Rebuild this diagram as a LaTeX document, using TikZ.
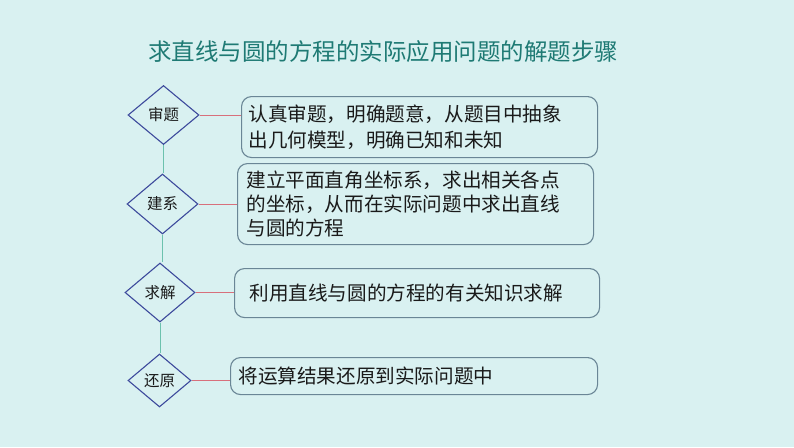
\documentclass[tikz,border=0pt]{standalone}
\usepackage{fontspec}
\setmainfont{Noto Sans CJK SC}
\usepackage{xcolor}
\usetikzlibrary{shapes.geometric}
\definecolor{bg}{HTML}{D9F1F1}
\definecolor{titlec}{HTML}{1E7A74}
\definecolor{diac}{HTML}{3D4A9C}
\definecolor{boxc}{HTML}{6A8696}
\definecolor{vlinkc}{HTML}{6CC2AE}
\definecolor{hlinkc}{HTML}{D8707C}
\definecolor{text}{HTML}{1A1A1A}
\tikzset{
  dia/.style={diamond, draw=diac, line width=1.1pt, inner sep=0pt, text=text, font=\fontsize{15.5}{18}\selectfont},
  box/.style={draw=boxc, line width=1.1pt, rounded corners=10pt, anchor=north west, align=left, text=text, font=\fontsize{19.6}{26}\selectfont, inner ysep=0pt},
  vlink/.style={draw=vlinkc, line width=1.0pt},
  hlink/.style={draw=hlinkc, line width=0.9pt},
  ttl/.style={text=titlec, font=\fontsize{23.5}{28}\selectfont},
}
\begin{document}
\begin{tikzpicture}[x=1pt,y=-1pt]
  \useasboundingbox (0,0) rectangle (794,447);
  \fill[bg] (0,0) rectangle (794,447);
  \node[ttl] (title) at (383,52) {求直线与圆的方程的实际应用问题的解题步骤};
  % steps
  \node[dia, minimum width=71pt, minimum height=59pt] (d1) at (163.5,115) {审题};
  \node[dia, minimum width=71pt, minimum height=60pt] (d2) at (162.5,204) {建系};
  \node[dia, minimum width=70pt, minimum height=59pt] (d3) at (160,292.5) {求解};
  \node[dia, minimum width=63pt, minimum height=53pt] (d4) at (159.5,380.5) {还原};
  % boxes
  \node[box, minimum width=356pt, minimum height=61pt, text width=342pt, inner xsep=7pt, yshift=-2pt] (b1) at (241,94)
    {认真审题，明确题意，从题目中抽象\\出几何模型，明确已知和未知};
  \node[box, minimum width=356pt, minimum height=81pt, text width=338pt, inner xsep=9pt,
    font=\fontsize{19.6}{24}\selectfont] (b2) at (237,163)
    {建立平面直角坐标系，求出相关各点\\的坐标，从而在实际问题中求出直线\\与圆的方程};
  \node[box, minimum width=365pt, minimum height=49pt, text width=335pt, inner xsep=15pt] (b3) at (234,268)
    {利用直线与圆的方程的有关知识求解};
  \node[box, minimum width=367pt, minimum height=37pt, text width=351pt, inner xsep=8pt] (b4) at (230,357)
    {将运算结果还原到实际问题中};
  % links
  \foreach \a/\b in {d1/d2,d2/d3,d3/d4}{
    \draw[vlink] (\a.south) -- (\a.south |- \b.north);
  }
  \foreach \i in {1,...,4}{
    \draw[hlink] (d\i.east) -- (d\i.east -| b\i.west);
  }
\end{tikzpicture}
\end{document}
